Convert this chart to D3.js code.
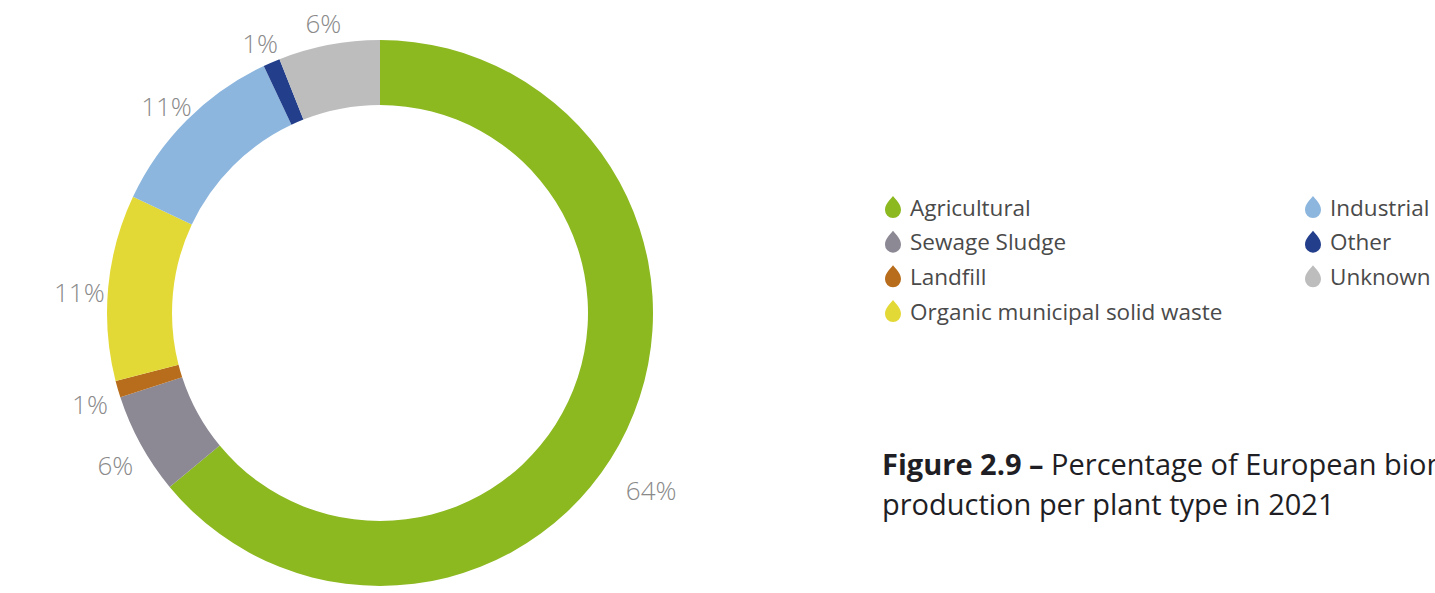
<!DOCTYPE html>
<html>
<head>
<meta charset="utf-8">
<script src="https://cdn.jsdelivr.net/npm/d3@7"></script>
<style>
  html, body { margin: 0; padding: 0; background: #fff; }
  svg { display: block; }
  .pct { font-family: "Open Sans", sans-serif; font-weight: 300; font-size: 26px; fill: #8a8a8a; }
  .leg { font-family: "Open Sans", sans-serif; font-weight: 400; font-size: 22.5px; fill: #4a4a4a; }
  .cap { font-family: "Open Sans", sans-serif; font-size: 29px; fill: #1e1e24; }
</style>
</head>
<body>
<div id="chart"></div>
<script>
// plant types, clockwise from 12 o'clock
const types  = ["Agricultural", "Sewage Sludge", "Landfill", "Organic municipal solid waste", "Industrial", "Other", "Unknown"];
const shares = [64, 6, 1, 11, 11, 1, 6];
const colors = ["#8cb820", "#8c8894", "#b76d1c", "#e3d936", "#8cb6de", "#233f8c", "#bdbdbd"];
// legend columns (order as printed)
const legendCol1 = ["Agricultural", "Sewage Sludge", "Landfill", "Organic municipal solid waste"];
const legendCol2 = ["Industrial", "Other", "Unknown"];
const captionBold = "Figure 2.9 \u2013";
const captionLines = ["Percentage of European biomethane", "production per plant type in 2021"];

const W = 1435, H = 593;
const cx = 380, cy = 313, rOut = 273, rIn = 208, rLab = 302;

const svg = d3.select("#chart").append("svg").attr("width", W).attr("height", H);
const color = d3.scaleOrdinal().domain(types).range(colors);

const rows = types.map((t, i) => ({ type: t, v: shares[i] }));
const pie = d3.pie().value(d => d.v).sort(null);
const arcs = pie(rows);
const arc = d3.arc().innerRadius(rIn).outerRadius(rOut);

const g = svg.append("g").attr("transform", `translate(${cx},${cy})`);
g.selectAll("path").data(arcs).join("path")
  .attr("d", arc)
  .attr("fill", d => color(d.data.type));

// labels sit just outside the ring (a touch lower, as in the original);
// the big slice label is pushed further round
const nudge = { "Agricultural": 0.12 };
const labAngle = d => (d.startAngle + d.endAngle) / 2 + (nudge[d.data.type] || 0);
const labR = d => rLab + (nudge[d.data.type] ? 18 : 0);
g.selectAll("text").data(arcs).join("text")
  .attr("class", "pct")
  .attr("text-anchor", "middle")
  .attr("dominant-baseline", "central")
  .attr("x", d => Math.sin(labAngle(d)) * labR(d))
  .attr("y", d => -Math.cos(labAngle(d)) * labR(d) + 7)
  .text(d => d.data.v + "%");

// legend with drop-shaped swatches
const drop = "M0,-11 C3,-7 8,-3 8,3 A8,8 0 0 1 -8,3 C-8,-3 -3,-7 0,-11 Z";
const rowY = d3.scalePoint().domain(d3.range(4)).range([207, 311]);
function legendColumn(names, x) {
  const it = svg.append("g").selectAll("g").data(names).join("g")
    .attr("transform", (d, i) => `translate(${x},${rowY(i)})`);
  it.append("path").attr("d", drop).attr("fill", d => color(d));
  it.append("text").attr("class", "leg").attr("x", 17).attr("dominant-baseline", "central").text(d => d);
}
legendColumn(legendCol1, 893);
legendColumn(legendCol2, 1313);

// caption (first line runs off the right edge, as in the source)
const cap = svg.append("text").attr("class", "cap").attr("x", 882).attr("y", 475);
cap.append("tspan").attr("font-weight", 700).text(captionBold + " ");
cap.append("tspan").text(captionLines[0]);
svg.append("text").attr("class", "cap").attr("x", 882).attr("y", 515).text(captionLines[1]);
</script>
</body>
</html>
